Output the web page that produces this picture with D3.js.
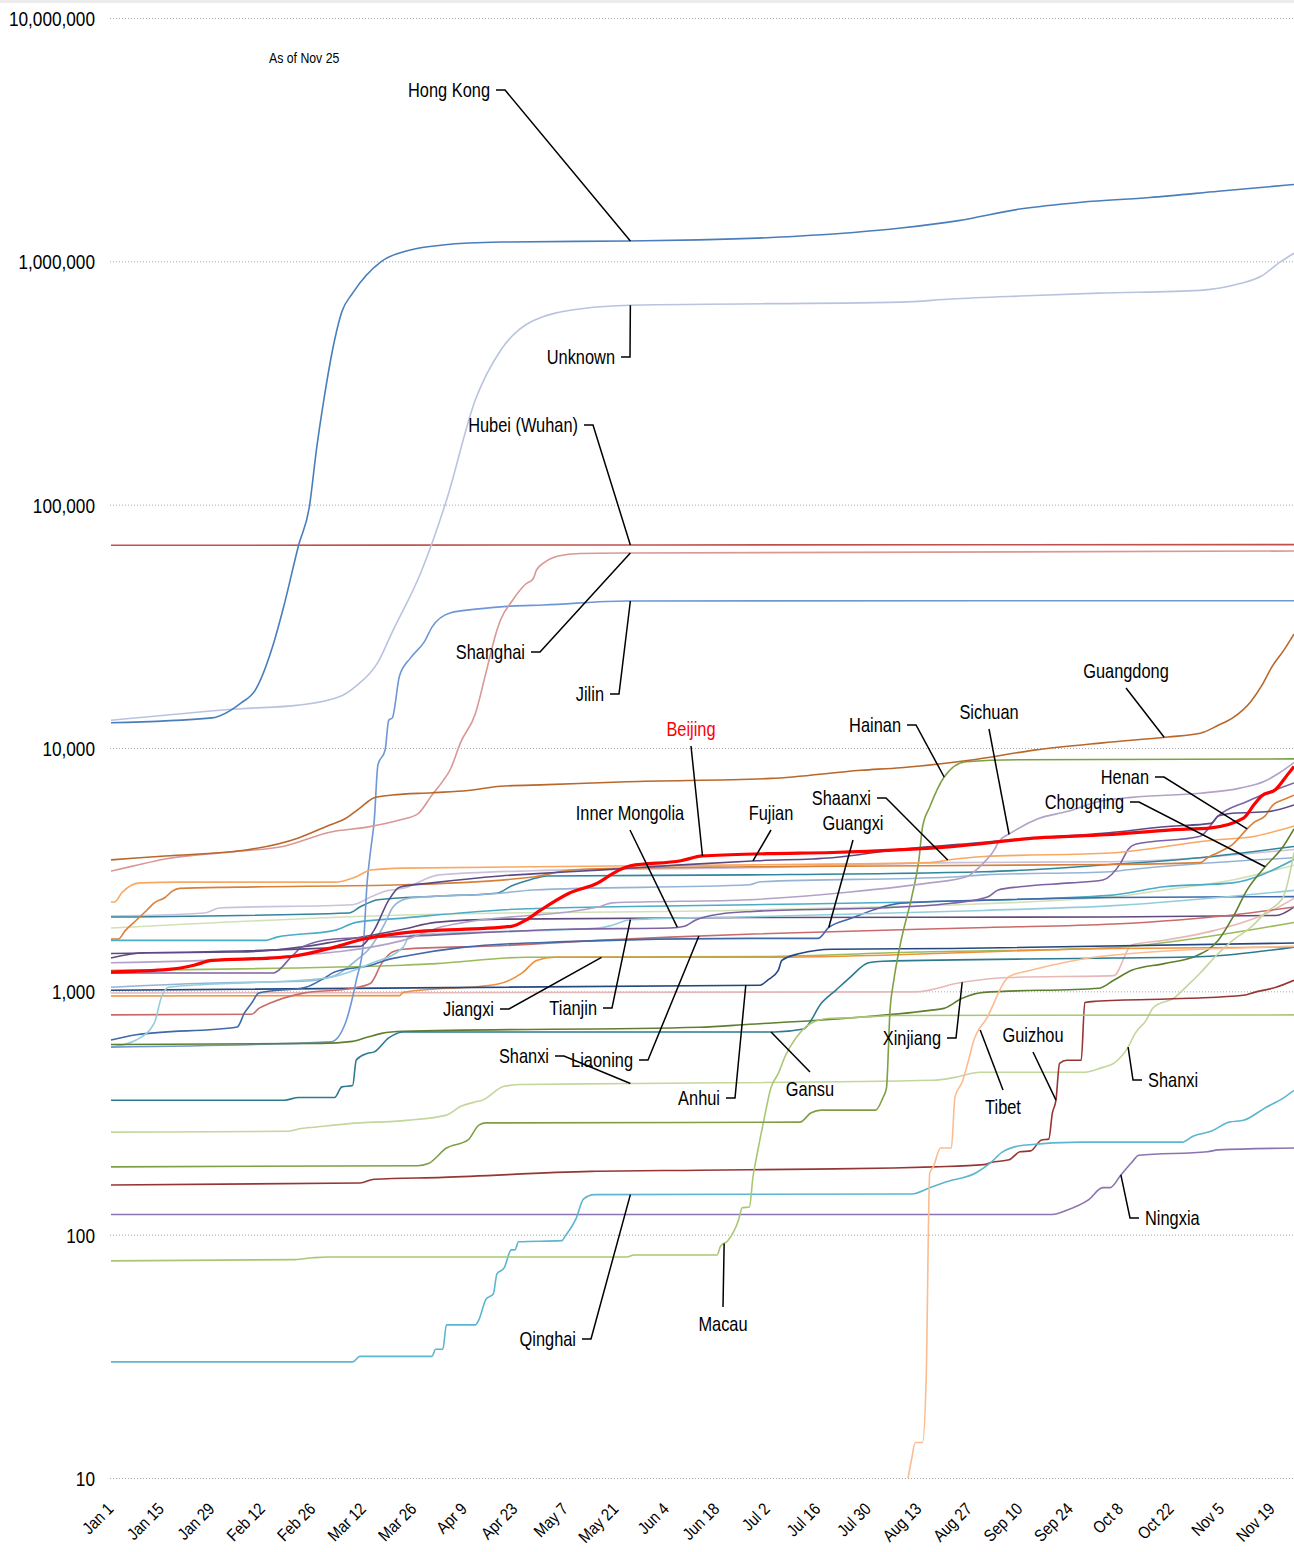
<!DOCTYPE html>
<html>
<head>
<meta charset="utf-8">
<script src="https://cdn.jsdelivr.net/npm/d3@7"></script>
<style>
  body { margin: 0; background: #fff; }
  text { font-family: "Liberation Sans", Arial, sans-serif; fill: #000; }
</style>
</head>
<body>
<svg id="chart" width="1294" height="1552"></svg>
<script>
// Cumulative cases: [date, cases]
const hongKong = [["Jan 1",12700],["Jan 29",13300],["Feb 6",15300],["Feb 10",17300],["Feb 15",26700],["Feb 18",38700],["Feb 22",68000],["Feb 25",98000],["Feb 27",170000],["Mar 1",269000],["Mar 4",475000],["Mar 6",620000],["Mar 9",740000],["Mar 17",1000000],["Mar 25",1114000],["Apr 3",1167000],["Apr 19",1200000],["May 24",1212000],["Jun 13",1225000],["Jul 10",1267000],["Aug 8",1370000],["Aug 24",1470000],["Sep 10",1640000],["Sep 27",1750000],["Oct 16",1830000],["Nov 4",1940000],["Nov 25",2070000]];
const unknown = [["Jan 1",13000],["Feb 6",14500],["Feb 22",15000],["Mar 6",16400],["Mar 10",18000],["Mar 16",22500],["Mar 20",30000],["Mar 28",53000],["Apr 4",104000],["Apr 12",269000],["Apr 19",430000],["Apr 28",570000],["May 12",640000],["May 25",660000],["Aug 8",680000],["Aug 22",700000],["Sep 10",720000],["Oct 2",740000],["Oct 30",760000],["Nov 10",810000],["Nov 16",870000],["Nov 21",990000],["Nov 25",1080000]];
const hubei = [["Jan 1",68100],["Jun 1",68300],["Nov 25",68500]];
const shanghai = [["Jan 1",3120],["Jan 7",3270],["Jan 16",3500],["Feb 3",3740],["Feb 18",3950],["Mar 3",4520],["Mar 13",4730],["Mar 22",5060],["Mar 27",5350],["Mar 31",6410],["Apr 3",7310],["Apr 5",8120],["Apr 8",10600],["Apr 12",13800],["Apr 15",20500],["Apr 18",30500],["Apr 19",33600],["Apr 22",39800],["Apr 26",47200],["Apr 28",49500],["Apr 29",53900],["May 1",57600],["May 5",61500],["May 11",63000],["May 25",63300],["Nov 25",64500]];
const jilin = [["Jan 1",590],["Mar 3",620],["Mar 7",741],["Mar 9",948],["Mar 10",1110],["Mar 12",1580],["Mar 13",2790],["Mar 14",3810],["Mar 15",5060],["Mar 16",8510],["Mar 18",9810],["Mar 19",13000],["Mar 20",13300],["Mar 22",19800],["Mar 25",23400],["Mar 29",27500],["Mar 31",31400],["Apr 5",35900],["Apr 13",37300],["Apr 22",38300],["May 1",38700],["May 24",40200],["Nov 25",40300]];
const guangdong = [["Jan 1",3470],["Jan 16",3600],["Feb 7",3800],["Feb 22",4270],["Mar 2",4780],["Mar 7",5130],["Mar 11",5660],["Mar 15",6250],["Mar 20",6410],["Mar 31",6550],["Apr 10",6690],["Apr 19",6960],["May 2",7070],["May 24",7270],["Jul 3",7500],["Jul 28",8100],["Aug 8",8300],["Aug 27",8900],["Sep 14",9800],["Oct 3",10500],["Oct 21",11100],["Oct 30",11500],["Nov 4",12400],["Nov 8",13300],["Nov 13",15500],["Nov 16",18000],["Nov 19",21700],["Nov 22",25000],["Nov 25",29400]];
const beijing = [["Jan 1",1200],["Jan 17",1230],["Jan 24",1280],["Jan 29",1340],["Feb 14",1370],["Feb 20",1390],["Mar 4",1520],["Mar 12",1640],["Mar 18",1700],["Mar 23",1740],["Apr 22",1850],["Apr 26",1960],["Apr 30",2150],["May 8",2530],["May 16",2790],["May 20",3040],["May 25",3280],["Jun 8",3440],["Jun 14",3600],["Jul 2",3680],["Jul 20",3720],["Aug 22",3930],["Sep 15",4270],["Oct 4",4400],["Oct 22",4610],["Nov 2",4700],["Nov 11",5150],["Nov 14",5870],["Nov 16",6350],["Nov 20",6770],["Nov 23",7700],["Nov 25",8400]];
const hainan = [["Jan 1",190],["Mar 27",192],["Mar 30",196],["Apr 4",227],["Apr 10",245],["Apr 13",282],["Apr 15",288],["Jul 11",290],["Jul 14",316],["Jul 17",325],["Aug 1",325],["Aug 3",365],["Aug 4",400],["Aug 5",840],["Aug 6",1100],["Aug 8",1600],["Aug 11",2440],["Aug 13",3470],["Aug 14",4730],["Aug 16",5720],["Aug 20",7600],["Aug 26",8780],["Sep 10",8950],["Nov 25",9020]];
const sichuan = [["Jan 1",1310],["Feb 14",1380],["Mar 23",1620],["Apr 2",1830],["Apr 9",1920],["May 16",2220],["May 20",2310],["Jun 27",2380],["Jul 25",2560],["Aug 16",2790],["Aug 26",2950],["Aug 31",3380],["Sep 3",3830],["Sep 4",4100],["Sep 8",4520],["Sep 15",5120],["Sep 23",5480],["Oct 2",6030],["Oct 11",6270],["Oct 30",6520],["Nov 10",6840],["Nov 17",7320],["Nov 21",7910],["Nov 25",8710]];
const henan = [["Jan 1",1640],["Jan 3",1640],["Jan 5",1780],["Jan 8",1960],["Jan 11",2160],["Jan 13",2310],["Jan 16",2430],["Jan 18",2580],["Jan 20",2650],["Feb 5",2680],["Mar 23",2740],["Apr 28",2950],["May 7",3130],["May 16",3190],["Jun 27",3250],["Oct 5",3320],["Oct 30",3380],["Nov 1",3540],["Nov 4",3720],["Nov 8",4020],["Nov 12",4650],["Nov 14",4960],["Nov 17",5260],["Nov 19",5800],["Nov 23",6210],["Nov 25",6400]];
const chongqing = [["Jan 1",605],["Feb 28",611],["Mar 9",623],["Mar 13",647],["Mar 17",672],["Mar 23",685],["Jun 13",712],["Jun 27",732],["Jul 24",775],["Aug 16",835],["Aug 20",851],["Aug 25",936],["Aug 31",990],["Oct 2",1030],["Oct 6",1110],["Oct 11",1220],["Oct 20",1300],["Oct 29",1400],["Nov 4",1620],["Nov 8",2010],["Nov 12",2610],["Nov 17",3250],["Nov 22",3940],["Nov 25",4650]];
const shaanxi = [["Jan 1",2330],["Jan 2",2330],["Jan 4",2540],["Jan 9",2790],["Jan 20",2810],["Mar 4",2810],["Mar 10",2960],["Mar 14",3150],["Mar 23",3210],["Jun 28",3310],["Aug 16",3380],["Aug 22",3480],["Aug 31",3580],["Oct 5",3700],["Nov 3",4190],["Nov 13",4310],["Nov 25",4780]];
const guangxi = [["Jan 1",631],["Jan 8",663],["Feb 5",714],["Feb 7",815],["Feb 9",895],["Feb 11",985],["Feb 24",1040],["Mar 1",1130],["Mar 4",1200],["Mar 14",1280],["Mar 18",1340],["Mar 23",1390],["Apr 9",1520],["May 7",1600],["Jun 27",1650],["Jul 16",1650],["Jul 19",1830],["Jul 25",1990],["Aug 8",2300],["Aug 31",2370],["Oct 6",2430],["Nov 25",2450]];
const fujian = [["Jan 1",1430],["Mar 11",1530],["Mar 15",1790],["Mar 19",2370],["Mar 22",2680],["Mar 31",2790],["Apr 19",2980],["Apr 28",3040],["May 16",3150],["Jun 8",3310],["Jun 29",3440],["Jul 20",3540],["Aug 8",3840],["Aug 27",4050],["Sep 14",4270],["Oct 3",4460],["Oct 21",4760],["Nov 2",4900],["Nov 4",5250],["Nov 8",5390],["Nov 18",5480],["Nov 25",5830]];
const innerMongolia = [["Jan 1",1190],["Feb 15",1190],["Feb 20",1385],["Feb 23",1520],["Mar 4",1640],["Mar 23",1680],["May 7",1800],["Jun 5",1820],["Jun 9",1850],["Jun 12",1960],["Jun 19",2080],["Jun 28",2130],["Aug 8",2220],["Aug 22",2300],["Sep 1",2440],["Sep 4",2610],["Sep 10",2690],["Sep 24",2790],["Oct 3",2870],["Oct 8",3380],["Oct 10",3830],["Oct 12",4020],["Oct 30",4340],["Nov 4",5260],["Nov 12",6030],["Nov 25",7180]];
const jiangxi = [["Jan 1",957],["Mar 22",960],["Mar 23",990],["Apr 18",1070],["Apr 25",1190],["Apr 29",1340],["May 4",1380],["Jun 30",1380],["Oct 6",1500],["Nov 25",1520]];
const tianjin = [["Jan 1",590],["Jan 8",631],["Jan 13",741],["Jan 15",948],["Jan 17",1040],["Feb 4",1080],["Feb 23",1110],["Mar 4",1150],["Mar 14",1300],["Mar 23",1520],["Mar 25",1700],["May 16",1820],["May 20",1870],["May 25",1970],["Jun 30",2030],["Aug 31",2150],["Oct 6",2250],["Nov 25",2600]];
const shanxi = [["Jan 1",264],["Feb 19",266],["Feb 22",272],["Feb 27",277],["Mar 8",286],["Mar 24",295],["Apr 4",310],["Apr 8",337],["Apr 12",351],["Apr 14",357],["Apr 20",407],["Apr 25",414],["May 26",418],["Aug 17",431],["Aug 23",443],["Aug 30",465],["Sep 28",465],["Oct 3",487],["Oct 6",506],["Oct 10",590],["Oct 12",673],["Oct 15",760],["Oct 17",858],["Oct 23",945],["Oct 26",1040],["Oct 30",1190],["Nov 4",1430],["Nov 8",1620],["Nov 13",1830],["Nov 17",2100],["Nov 22",2440],["Nov 25",3720]];
const liaoning = [["Jan 1",800],["Feb 9",805],["Feb 11",851],["Feb 14",893],["Feb 23",981],["Mar 9",1030],["Mar 14",1080],["Mar 17",1300],["Mar 20",1450],["Mar 23",1490],["Apr 19",1540],["May 16",1620],["Jun 5",1670],["Jun 28",1720],["Sep 1",1830],["Oct 6",1890],["Nov 8",2060],["Nov 25",2220]];
const anhui = [["Jan 1",1010],["Jun 30",1060],["Jul 2",1110],["Jul 5",1220],["Jul 6",1340],["Jul 11",1430],["Jul 20",1490],["Aug 22",1500],["Nov 25",1580]];
const gansu = [["Jan 1",357],["Feb 18",357],["Feb 22",366],["Mar 4",366],["Mar 6",405],["Mar 9",410],["Mar 10",522],["Mar 13",555],["Mar 15",564],["Mar 19",644],["Mar 23",681],["Jul 4",681],["Jul 12",700],["Jul 17",895],["Jul 21",1012],["Jul 25",1145],["Jul 30",1310],["Aug 3",1330],["Oct 6",1370],["Oct 31",1390],["Nov 25",1520]];
const xinjiang = [["Jan 1",985],["Aug 12",995],["Aug 25",1090],["Sep 7",1140],["Oct 6",1160],["Oct 11",1550],["Oct 20",1620],["Nov 3",1780],["Nov 17",2080],["Nov 25",2410]];
const tibet = [["Aug 10",10],["Aug 11",12],["Aug 12",14],["Aug 14",14],["Aug 15",25],["Aug 16",179],["Aug 17",190],["Aug 19",227],["Aug 22",227],["Aug 23",368],["Aug 25",424],["Aug 27",537],["Aug 28",614],["Sep 1",784],["Sep 6",1110],["Sep 7",1150],["Sep 13",1220],["Sep 22",1310],["Oct 4",1400],["Nov 25",1530]];
const guizhou = [["Jan 1",160],["Mar 11",163],["Mar 15",169],["Apr 3",172],["May 14",182],["Jun 13",184],["Jul 15",186],["Aug 6",188],["Aug 17",190],["Aug 31",194],["Sep 2",198],["Sep 7",203],["Sep 10",219],["Sep 13",221],["Sep 16",245],["Sep 18",247],["Sep 19",316],["Sep 20",357],["Sep 21",506],["Sep 23",521],["Sep 27",521],["Sep 28",900],["Oct 1",910],["Oct 27",936],["Nov 11",963],["Nov 14",990],["Nov 20",1040],["Nov 25",1110]];
const ningxia = [["Jan 1",121],["Sep 19",121],["Sep 23",126],["Sep 29",139],["Oct 3",156],["Oct 5",156],["Oct 8",176],["Oct 11",198],["Oct 13",212],["Nov 1",219],["Nov 4",223],["Nov 25",227]];
const qinghai = [["Jan 1",30],["Mar 9",30],["Mar 11",31.6],["Mar 31",31.6],["Apr 1",33.8],["Apr 3",33.8],["Apr 4",42.6],["Apr 12",42.6],["Apr 13",44.7],["Apr 15",54.4],["Apr 17",57],["Apr 18",69],["Apr 20",73],["Apr 22",86.6],["Apr 23",86.6],["Apr 24",93.5],["May 6",94.5],["May 7",99],["May 10",117],["May 12",140],["May 15",146],["Aug 11",147],["Aug 16",156],["Aug 20",164],["Aug 29",180],["Sep 2",198],["Sep 5",218],["Sep 11",233],["Sep 27",240],["Oct 25",240],["Oct 28",254],["Nov 2",266],["Nov 7",290],["Nov 11",295],["Nov 17",332],["Nov 22",364],["Nov 25",392]];
const macau = [["Jan 1",78],["Feb 21",79],["Feb 26",80.4],["Mar 2",81],["May 24",81],["May 26",82.5],["Jun 18",82.5],["Jun 19",89.6],["Jun 21",94.5],["Jun 24",115],["Jun 25",129],["Jun 27",130],["Jun 28",173],["Jun 29",209],["Jul 1",295],["Jul 3",403],["Jul 5",459],["Jul 7",545],["Jul 10",646],["Jul 14",738],["Jul 19",773],["Jul 26",780],["Aug 7",796],["Nov 25",800]];
const zhejiang = [["Jan 1",2020],["Mar 8",2100],["Mar 11",2220],["Mar 16",2380],["Apr 1",2460],["Apr 18",2530],["Apr 22",2710],["Apr 27",2870],["May 2",2980],["Jun 27",3010],["Aug 31",3100],["Oct 5",3320],["Oct 30",3540],["Nov 25",3940]];
const jiangsu = [["Jan 1",1820],["Mar 23",2060],["Jun 28",2160],["Oct 5",2440],["Oct 20",2610],["Nov 8",2870],["Nov 25",3300]];
const shandong = [["Jan 1",1620],["Feb 13",1620],["Feb 16",1670],["Mar 4",1780],["Mar 10",1920],["Mar 23",2000],["Apr 19",2160],["May 16",2220],["Jun 28",2270],["Aug 12",2330],["Oct 5",2480],["Oct 20",2690],["Nov 8",2790],["Nov 25",3480]];
const yunnan = [["Jan 1",2040],["Jan 27",2100],["Jan 31",2200],["Mar 9",2270],["Mar 14",2440],["Mar 18",2580],["Mar 23",2650],["Apr 2",3010],["Apr 28",3130],["Jun 27",3220],["Aug 22",3380],["Oct 5",3410],["Nov 25",3830]];
const hunan = [["Jan 1",1040],["Jan 27",1080],["Feb 23",1100],["Mar 4",1160],["Mar 10",1340],["Mar 14",1520],["Mar 18",1910],["Mar 20",2200],["Mar 23",2380],["Mar 25",2420],["Apr 19",2530],["Apr 28",2610],["Jun 27",2740],["Jun 30",2820],["Aug 22",2950],["Aug 31",3010],["Oct 5",3100],["Oct 10",3160],["Nov 25",3540]];
const hebei = [["Jan 1",1220],["Mar 23",1280],["Apr 1",1300],["Apr 26",1380],["Jun 30",1390],["Aug 12",1450],["Oct 5",1510],["Nov 8",1740],["Nov 25",1920]];
const heilongjiang = [["Jan 1",1370],["Jan 10",1440],["Feb 5",1450],["Feb 24",1530],["Mar 4",1600],["Mar 23",1800],["Apr 1",1920],["Apr 19",1980],["Jun 27",2010],["Oct 5",2020],["Nov 20",2050],["Nov 25",2220]];

const xTicks = ["Jan 1","Jan 15","Jan 29","Feb 12","Feb 26","Mar 12","Mar 26","Apr 9","Apr 23","May 7","May 21","Jun 4","Jun 18","Jul 2","Jul 16","Jul 30","Aug 13","Aug 27","Sep 10","Sep 24","Oct 8","Oct 22","Nov 5","Nov 19"];
const yTicks = [10, 100, 1000, 10000, 100000, 1000000, 10000000];

const series = [
  ["Hubei (Wuhan)", hubei], ["Jiangsu", jiangsu], ["Yunnan", yunnan], ["Zhejiang", zhejiang],
  ["Shandong", shandong], ["Hunan", hunan], ["Hebei", hebei], ["Heilongjiang", heilongjiang],
  ["Xinjiang", xinjiang], ["Jiangxi", jiangxi], ["Anhui", anhui], ["Liaoning", liaoning],
  ["Guangxi", guangxi], ["Tianjin", tianjin], ["Jilin", jilin], ["Chongqing", chongqing],
  ["Gansu", gansu], ["Shanxi", shanxi], ["Guizhou", guizhou], ["Ningxia", ningxia],
  ["Qinghai", qinghai], ["Macau", macau], ["Tibet", tibet], ["Hainan", hainan],
  ["Inner Mongolia", innerMongolia], ["Shaanxi", shaanxi], ["Henan", henan], ["Sichuan", sichuan],
  ["Fujian", fujian], ["Shanghai", shanghai], ["Guangdong", guangdong], ["Unknown", unknown],
  ["Hong Kong", hongKong], ["Beijing", beijing]
];

const colors = {
  "Hong Kong": "#4a7ebb", "Unknown": "#b8c4df", "Hubei (Wuhan)": "#c0504d", "Shanghai": "#d99795",
  "Jilin": "#6f97d6", "Guangdong": "#b8682b", "Beijing": "#ff0000", "Hainan": "#7f9f45",
  "Sichuan": "#b3a2c7", "Henan": "#d8803a", "Chongqing": "#5f7f30", "Shaanxi": "#f9a862",
  "Guangxi": "#3f69a8", "Fujian": "#5b4a85", "Inner Mongolia": "#7d62a3", "Jiangxi": "#f0903a",
  "Tianjin": "#93cddd", "Shanxi": "#c3d69b", "Liaoning": "#c96b6b", "Anhui": "#24487e",
  "Gansu": "#2b7a8f", "Xinjiang": "#e6b9b8", "Tibet": "#fbbc8f", "Guizhou": "#963634",
  "Ningxia": "#8c74b0", "Qinghai": "#5cb6d0", "Macau": "#a9c772", "Zhejiang": "#31859c",
  "Jiangsu": "#d2e0b8", "Shandong": "#4bacc6", "Yunnan": "#ccc1da", "Hunan": "#95b3d7",
  "Hebei": "#9bbb59", "Heilongjiang": "#604a7b"
};

// Annotations: label text, where it sits, and the date its leader line points at
const notes = [
  {text: "Hong Kong", s: "Hong Kong", at: "May 25", x: 490, y: 90, side: "end"},
  {text: "Unknown", s: "Unknown", at: "May 25", x: 615, y: 357, side: "end"},
  {text: "Hubei (Wuhan)", s: "Hubei (Wuhan)", at: "May 25", x: 578, y: 425, side: "end"},
  {text: "Shanghai", s: "Shanghai", at: "May 25", x: 525, y: 652, side: "end"},
  {text: "Jilin", s: "Jilin", at: "May 25", x: 604, y: 694, side: "end"},
  {text: "Guangdong", s: "Guangdong", at: "Oct 20", x: 1126, y: 671, side: "above"},
  {text: "Beijing", s: "Beijing", at: "Jun 14", x: 691, y: 729, side: "above", red: true},
  {text: "Hainan", s: "Hainan", at: "Aug 20", x: 901, y: 725, side: "end"},
  {text: "Sichuan", s: "Sichuan", at: "Sep 7", x: 989, y: 712, side: "above"},
  {text: "Henan", s: "Henan", at: "Nov 12", x: 1149, y: 777, side: "end"},
  {text: "Chongqing", s: "Chongqing", at: "Nov 17", x: 1124, y: 802, side: "end"},
  {text: "Shaanxi", s: "Shaanxi", at: "Aug 21", x: 871, y: 798, side: "end"},
  {text: "Guangxi", s: "Guangxi", at: "Jul 19", x: 853, y: 823, side: "above"},
  {text: "Fujian", s: "Fujian", at: "Jun 28", x: 771, y: 813, side: "above"},
  {text: "Inner Mongolia", s: "Inner Mongolia", at: "Jun 7", x: 630, y: 813, side: "above"},
  {text: "Jiangxi", s: "Jiangxi", at: "May 17", x: 494, y: 1009, side: "end"},
  {text: "Tianjin", s: "Tianjin", at: "May 25", x: 597, y: 1008, side: "end"},
  {text: "Shanxi", s: "Shanxi", at: "May 25", x: 549, y: 1056, side: "end"},
  {text: "Liaoning", s: "Liaoning", at: "Jun 13", x: 633, y: 1060, side: "end"},
  {text: "Anhui", s: "Anhui", at: "Jun 26", x: 720, y: 1098, side: "end"},
  {text: "Gansu", s: "Gansu", at: "Jul 3", x: 810, y: 1089, side: "below"},
  {text: "Xinjiang", s: "Xinjiang", at: "Aug 25", x: 941, y: 1038, side: "end"},
  {text: "Tibet", s: "Tibet", at: "Aug 30", x: 1003, y: 1107, side: "below"},
  {text: "Guizhou", s: "Guizhou", at: "Sep 20", x: 1033, y: 1035, side: "above"},
  {text: "Shanxi", s: "Shanxi", at: "Oct 10", x: 1148, y: 1080, side: "start"},
  {text: "Ningxia", s: "Ningxia", at: "Oct 8", x: 1145, y: 1218, side: "start"},
  {text: "Qinghai", s: "Qinghai", at: "May 25", x: 576, y: 1339, side: "end"},
  {text: "Macau", s: "Macau", at: "Jun 20", x: 723, y: 1324, side: "below"}
];

const narrow = 0.82; // squeeze Liberation Sans to a narrow face
const parseDay = d3.timeParse("%b %d");
const svg = d3.select("#chart");

const x = d3.scaleTime()
  .domain([parseDay("Jan 1"), parseDay("Nov 25")])
  .range([111, 1294]);
const y = d3.scaleLog()
  .domain([10, 10000000])
  .range([1478, 18]);

// thin grey strip along the top
svg.append("rect").attr("x", 0).attr("y", 0).attr("width", 1294).attr("height", 3).attr("fill", "#ececec");

// y axis + dotted gridlines
const yAxis = svg.append("g")
  .attr("transform", "translate(110,0)")
  .call(d3.axisLeft(y).tickValues(yTicks).tickFormat(d3.format(",")).tickSize(-1184));
yAxis.select(".domain").remove();
yAxis.selectAll(".tick line")
  .attr("stroke", "#a6a6a6")
  .attr("stroke-dasharray", "1,2");
yAxis.selectAll(".tick text")
  .attr("x", -15 / narrow)
  .attr("dy", "0.35em")
  .attr("transform", `scale(${narrow},1)`)
  .style("font-size", "21px");

// x axis, rotated labels
const xAxis = svg.append("g")
  .attr("transform", "translate(0,1478)")
  .call(d3.axisBottom(x).tickValues(xTicks.map(parseDay)).tickFormat(d3.timeFormat("%b %-d")).tickSize(0));
xAxis.select(".domain").remove();
xAxis.selectAll(".tick text")
  .attr("x", 0).attr("y", 0).attr("dy", 0)
  .attr("transform", "translate(3,32) rotate(-45) scale(0.86,1)")
  .style("text-anchor", "end")
  .style("font-size", "17px");

const line = d3.line()
  .x(d => x(parseDay(d[0])))
  .y(d => y(d[1]))
  .curve(d3.curveMonotoneX);

svg.append("g")
  .selectAll("path")
  .data(series)
  .join("path")
  .attr("d", d => line(d[1]))
  .attr("fill", "none")
  .attr("stroke", d => colors[d[0]])
  .attr("stroke-width", d => d[0] === "Beijing" ? 3.2 : 1.6)
  .attr("stroke-linejoin", "round");

// value of a series at a date (log-linear between read points)
function valueAt(values, day) {
  const t = parseDay(day);
  for (let i = 1; i < values.length; i++) {
    const t0 = parseDay(values[i - 1][0]), t1 = parseDay(values[i][0]);
    if (t <= t1) {
      const f = (t - t0) / (t1 - t0);
      return Math.exp(Math.log(values[i - 1][1]) * (1 - f) + Math.log(values[i][1]) * f);
    }
  }
  return values[values.length - 1][1];
}
const byName = new Map(series);

const g = svg.append("g");
notes.forEach(n => {
  const px = x(parseDay(n.at));
  const py = y(valueAt(byName.get(n.s), n.at));
  let pts;
  if (n.side === "end") pts = [[n.x + 6, n.y], [n.x + 15, n.y], [px, py]];
  else if (n.side === "start") pts = [[n.x - 6, n.y], [n.x - 15, n.y], [px, py]];
  else if (n.side === "above") pts = [[n.x, n.y + 17], [px, py]];
  else pts = [[n.x, n.y - 17], [px, py]];

  g.append("path")
    .attr("d", d3.line()(pts))
    .attr("fill", "none")
    .attr("stroke", "#000")
    .attr("stroke-width", 1.5);

  g.append("g")
    .attr("transform", `translate(${n.x},${n.y})`)
    .append("text")
    .attr("transform", `scale(${narrow},1)`)
    .attr("dy", "0.35em")
    .attr("text-anchor", n.side === "end" ? "end" : n.side === "start" ? "start" : "middle")
    .style("font-size", "20px")
    .style("fill", n.red ? "#ff0000" : "#000")
    .text(n.text);
});

svg.append("g")
  .attr("transform", "translate(269,58)")
  .append("text")
  .attr("transform", `scale(${narrow},1)`)
  .attr("dy", "0.35em")
  .style("font-size", "15px")
  .text("As of Nov 25");
</script>
</body>
</html>
